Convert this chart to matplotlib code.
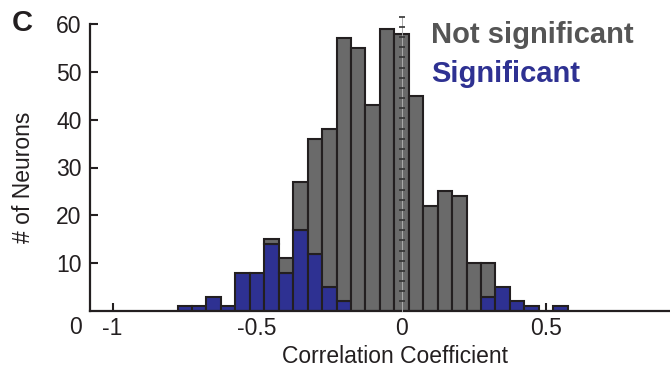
import numpy as np
import matplotlib.pyplot as plt

plt.rcParams['font.family'] = ['Liberation Sans', 'DejaVu Sans']

# histogram of correlation coefficients, bins of width 0.05
bin_width = 0.05
bin_centers = np.round(np.arange(-0.75, 0.551, bin_width), 2)
significant = [1, 1, 3, 1, 8, 8, 14, 8, 17, 12, 5, 2, 0, 0,
               0, 0, 0, 0, 0, 0, 0, 3, 5, 2, 1, 0, 1]
not_significant = [0, 0, 0, 0, 0, 0, 1, 3, 10, 24, 33, 55, 55, 43,
                   59, 58, 45, 22, 25, 24, 10, 7, 0, 0, 0, 0, 0]
y_ticks = [10, 20, 30, 40, 50, 60]
x_ticks = [-1, -0.5, 0, 0.5]
x_ticklabels = ['-1', '-0.5', '0', '0.5']

gray = '#6a6a6a'
blue = '#2e3192'
edge = '#231f20'
fs = 16.5

fig = plt.figure(figsize=(6.7, 3.68), dpi=100)
ax = fig.add_axes([90 / 670, 1 - 311 / 368, 1 - 90 / 670, (311 - 24) / 368])

sig = np.array(significant)
nsig = np.array(not_significant)
m = sig > 0
ax.bar(bin_centers[m], sig[m], width=bin_width, color=blue,
       edgecolor=edge, linewidth=1.5, zorder=2)
m = nsig > 0
ax.bar(bin_centers[m], nsig[m], width=bin_width, bottom=sig[m], color=gray,
       edgecolor=edge, linewidth=1.5, zorder=2)

# zero line marker
ax.plot([0, 0], [0, 61.5], color='#aaaaaa', lw=0.7, zorder=3, clip_on=False)
ax.plot(np.zeros(29), np.linspace(2, 61.5, 29), ls='none', marker='_',
        ms=5, mew=1.2, color='#333333', zorder=4, clip_on=False)

ax.set_xlim(-1.078, 0.929)
ax.set_ylim(0, 60)
for s in ['top', 'right']:
    ax.spines[s].set_visible(False)
for s in ['left', 'bottom']:
    ax.spines[s].set_linewidth(1.6)
    ax.spines[s].set_color(edge)

ax.set_yticks(y_ticks)
ax.set_xticks(x_ticks)
ax.set_xticklabels(x_ticklabels)
ax.tick_params(direction='in', length=6, width=1.5, color=edge,
               labelsize=fs, labelcolor=edge)
ax.tick_params(axis='y', pad=6)
ax.tick_params(axis='x', pad=4)

ax.set_xlabel('Correlation Coefficient', fontsize=fs, color=edge)
ax.xaxis.set_label_coords((395 - 90) / 580, -0.118)
fig.text(24 / 670, 1 - 177 / 368, '# of Neurons', fontsize=fs, color=edge,
         rotation=90, ha='center', va='center')

fig.text(75 / 670, 1 - 327 / 368, '0', fontsize=fs, color=edge,
         ha='center', va='center')
fig.text(22 / 670, 1 - 23 / 368, 'C', fontsize=21, fontweight='bold',
         color=edge, ha='center', va='center')

fig.text(431 / 670, 1 - 35 / 368, 'Not significant', fontsize=21,
         fontweight='bold', color='#555555', ha='left', va='center')
fig.text(431 / 670, 1 - 74 / 368, 'Significant', fontsize=21,
         fontweight='bold', color=blue, ha='left', va='center')

fig.savefig('out.png', dpi=100)
